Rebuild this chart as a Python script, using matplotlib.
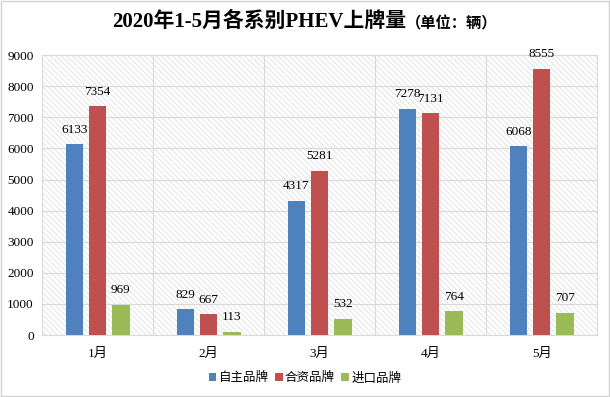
import matplotlib
matplotlib.use('Agg')
import matplotlib.pyplot as plt
import numpy as np

plt.rcParams['font.family'] = ['Liberation Serif', 'Noto Sans CJK SC']
plt.rcParams['hatch.color'] = '#dadada'
plt.rcParams['hatch.linewidth'] = 0.5

months = ['1月', '2月', '3月', '4月', '5月']
series_names = ['自主品牌', '合资品牌', '进口品牌']
domestic = [6133, 829, 4317, 7278, 6068]
joint = [7354, 667, 5281, 7131, 8555]
imported = [969, 113, 532, 764, 707]
colors = ['#4F81BD', '#C0504D', '#9BBB59']

fig = plt.figure(figsize=(6.10, 3.97), dpi=100)
ax = fig.add_axes([0.069, 0.156, 0.910, 0.705])

# hatched plot area like the excel chart
ax.patch.set_facecolor('white')
ax.patch.set_hatch('\\\\\\\\\\\\')
ax.patch.set_edgecolor('#dadada')

x = np.arange(len(months))
offsets = [-0.21, 0.0, 0.21]
width = 0.155
for vals, off, c, name in zip([domestic, joint, imported], offsets, colors, series_names):
    bars = ax.bar(x + off, vals, width, color=c, label=name, zorder=3)
    for b, v in zip(bars, vals):
        ax.text(b.get_x() + b.get_width() / 2, v + 280, str(v),
                ha='center', va='bottom', fontsize=9.5, zorder=4)

ax.set_xlim(-0.5, 4.5)
ax.set_ylim(0, 9000)
ax.set_yticks(np.arange(0, 9001, 1000))
ax.set_xticks(x)
ax.set_xticklabels(months, fontsize=9.5)
ax.tick_params(axis='y', labelsize=9.5, length=0, pad=6)
ax.tick_params(axis='x', length=0, pad=9)

ax.grid(axis='y', color='#d9d9d9', linewidth=0.8, zorder=1)
for b in np.arange(0.5, 4.5, 1.0):
    ax.axvline(b, color='#d9d9d9', linewidth=0.8, zorder=1)
for s in ax.spines.values():
    s.set_color('#d9d9d9')
    s.set_linewidth(0.8)

leg = fig.legend(loc='center', bbox_to_anchor=(0.5, 0.048), ncol=3, frameon=False,
                 handlelength=0.6, handleheight=0.6, handletextpad=0.2, columnspacing=0.5,
                 prop={'family': ['Noto Sans CJK SC'], 'size': 9})

# title: main part plus smaller unit part, centered together
renderer = fig.canvas.get_renderer()
t1 = fig.text(0, 0.944, '2020年1-5月各系别PHEV上牌量', fontsize=15, fontweight='bold',
              ha='left', va='center')
t2 = fig.text(0, 0.940, '（单位：辆）', fontsize=11, fontweight='bold',
              family=['Noto Sans CJK SC'], ha='left', va='center')
w1 = t1.get_window_extent(renderer).width / fig.bbox.width
w2 = t2.get_window_extent(renderer).width / fig.bbox.width
x0 = 0.5 - (w1 + w2) / 2
t1.set_x(x0)
t2.set_x(x0 + w1)

# outer border
fig.patches.append(plt.Rectangle((0.002, 0.003), 0.996, 0.994, transform=fig.transFigure,
                                 fill=False, edgecolor='#d0d0d0', linewidth=1))

fig.savefig('out.png', dpi=100)
